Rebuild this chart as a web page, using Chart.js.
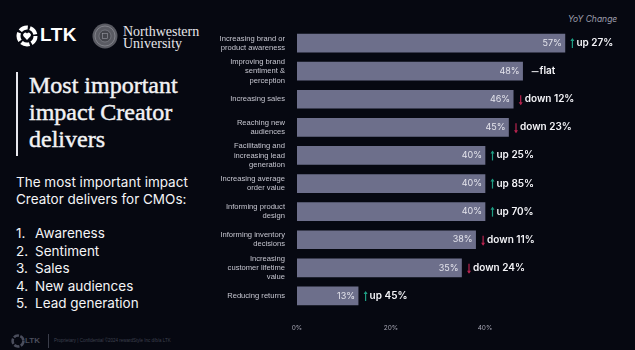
<!DOCTYPE html>
<html>
<head>
<meta charset="utf-8">
<script src="https://cdn.jsdelivr.net/npm/chart.js@4"></script>
<style>
  html, body { margin: 0; padding: 0; }
  body { width: 635px; height: 350px; background: #060811; position: relative; overflow: hidden; color: #fff; }
  .logo { position: absolute; left: 16px; top: 25px; }
  .ltk { position: absolute; left: 40px; top: 24px; font: bold 19px "Liberation Sans", Arial, sans-serif; color: #fff; letter-spacing: 0.5px; }
  .nw { position: absolute; left: 123px; top: 26px; font: 14px/12px "Liberation Serif", serif; color: #e6e6ea; }
  .bar-line { position: absolute; left: 16px; top: 72px; width: 1.5px; height: 84px; background: #e8e8ee; }
  .title { position: absolute; left: 29px; top: 72px; font: 24px/27px "Liberation Serif", serif; color: #f2f2f4; -webkit-text-stroke: 0.45px #f2f2f4; }
  .sub { position: absolute; left: 16px; top: 174px; font: 400 13.5px/17px Inter, sans-serif; color: #f4f4f6; }
  .list { position: absolute; left: 16px; top: 225px; font: 400 13.5px/17.5px Inter, sans-serif; color: #f4f4f6; margin: 0; padding: 0; list-style: none; }
  .list span { display: inline-block; width: 19px; }
  .foot { position: absolute; left: 10px; top: 334px; }
  .foot-ltk { position: absolute; left: 25px; top: 336px; font: bold 8px "Liberation Sans", sans-serif; color: #4a4d5c; }
  .foot-sep { position: absolute; left: 48px; top: 334px; width: 1px; height: 14px; background: #3a3d4a; }
  .foot-txt { position: absolute; left: 54px; top: 338px; font: 4.5px "Liberation Sans", sans-serif; color: #3e4150; white-space: nowrap; }
  .yoy { position: absolute; left: 568px; top: 14px; font: italic 8.5px Inter, sans-serif; color: #9c9cab; }
  #wrap { position: absolute; left: 205px; top: 0; width: 430px; height: 350px; }
</style>
</head>
<body>
<svg class="logo" width="22" height="22" viewBox="0 0 22 22">
  <circle cx="11" cy="11" r="8.5" fill="none" stroke="#fff" stroke-width="4" stroke-dasharray="8.5 2.2"/>
  <path d="M11 15 L7.5 11.2 A2.1 2.1 0 0 1 11 8.6 A2.1 2.1 0 0 1 14.5 11.2 Z" fill="#fff"/>
</svg>
<div class="ltk">LTK</div>
<svg style="position:absolute;left:92px;top:23px" width="26" height="26" viewBox="0 0 26 26">
  <circle cx="13" cy="13" r="12.5" fill="#5a5b63"/>
  <circle cx="13" cy="13" r="10" fill="none" stroke="#8a8b93" stroke-width="0.8"/>
  <circle cx="13" cy="13" r="6" fill="#44454c" stroke="#8a8b93" stroke-width="0.6"/>
  <rect x="10.5" y="10.5" width="5" height="5" fill="none" stroke="#9a9ba3" stroke-width="0.6"/>
</svg>
<div class="nw">Northwestern<br>University</div>
<div class="bar-line"></div>
<div class="title">Most important<br>impact Creator<br>delivers</div>
<div class="sub">The most important impact<br>Creator delivers for CMOs:</div>
<ul class="list">
  <li><span>1.</span>Awareness</li>
  <li><span>2.</span>Sentiment</li>
  <li><span>3.</span>Sales</li>
  <li><span>4.</span>New audiences</li>
  <li><span>5.</span>Lead generation</li>
</ul>
<svg class="foot" width="14" height="14" viewBox="0 0 22 22" style="left:11px;top:334px">
  <circle cx="11" cy="11" r="8.5" fill="none" stroke="#4a4d5c" stroke-width="4" stroke-dasharray="8.5 2.2"/>
</svg>
<div class="foot-ltk">LTK</div>
<div class="foot-sep"></div>
<div class="foot-txt">Proprietary | Confidential ©2024 rewardStyle Inc d/b/a LTK</div>
<div class="yoy">YoY Change</div>
<div id="wrap"><canvas id="myChart" width="430" height="350"></canvas></div>
<script>
const categories = [
    ['Increasing brand or', 'product awareness'],
    ['Improving brand', 'sentiment &', 'perception'],
    'Increasing sales',
    ['Reaching new', 'audiences'],
    ['Facilitating and', 'increasing lead', 'generation'],
    ['Increasing average', 'order value'],
    ['Informing product', 'design'],
    ['Informing inventory', 'decisions'],
    ['Increasing', 'customer lifetime', 'value'],
    'Reducing returns'
]
const shares = [57, 48, 46, 45, 40, 40, 40, 38, 35, 13]
const yoyDir = ['up', 'flat', 'down', 'down', 'up', 'up', 'up', 'down', 'down', 'up']
const yoyPct = [27, 0, 12, 23, 25, 85, 70, 11, 24, 45]
const xTicks = [0, 20, 40]

const barLabels = {
    id: 'barLabels',
    afterDatasetsDraw(chart) {
        const ctx = chart.ctx
        const meta = chart.getDatasetMeta(0)
        ctx.save()
        ctx.textBaseline = 'middle'
        meta.data.forEach((bar, i) => {
            const y = bar.y
            ctx.font = '9px Inter, sans-serif'
            ctx.fillStyle = '#e4e4ec'
            ctx.textAlign = 'right'
            ctx.fillText(shares[i] + '%', bar.x - 3, y)
            ctx.textAlign = 'left'
            let x = bar.x + 6
            if (yoyDir[i] === 'flat') {
                ctx.strokeStyle = '#f0f0f4'
                ctx.lineWidth = 1
                ctx.beginPath()
                ctx.moveTo(x + 3, y + 0.5)
                ctx.lineTo(x + 10, y + 0.5)
                ctx.stroke()
                ctx.font = '600 10px Inter, sans-serif'
                ctx.fillStyle = '#f4f4f8'
                ctx.fillText('flat', x + 11, y)
                return
            }
            const up = yoyDir[i] === 'up'
            ctx.strokeStyle = up ? '#1f9e84' : '#b8244f'
            ctx.fillStyle = ctx.strokeStyle
            ctx.lineWidth = 1.2
            const ax = x + 1.5
            ctx.beginPath()
            ctx.moveTo(ax, y - 4)
            ctx.lineTo(ax, y + 5)
            ctx.stroke()
            ctx.beginPath()
            if (up) {
                ctx.moveTo(ax - 2, y - 2); ctx.lineTo(ax, y - 5); ctx.lineTo(ax + 2, y - 2)
            } else {
                ctx.moveTo(ax - 2, y + 3); ctx.lineTo(ax, y + 6); ctx.lineTo(ax + 2, y + 3)
            }
            ctx.fill()
            ctx.font = '600 10px Inter, sans-serif'
            ctx.fillStyle = '#f4f4f8'
            ctx.fillText(yoyDir[i] + ' ' + yoyPct[i] + '%', x + 5.5, y)
        })
        ctx.restore()
    }
}

const myChart = new Chart(document.querySelector('#myChart'), {
    type: 'bar',
    data: {
        labels: categories,
        datasets: [{
            data: shares,
            backgroundColor: '#6d6f8b',
            barThickness: 18
        }]
    },
    options: {
        indexAxis: 'y',
        responsive: false,
        animation: false,
        layout: { padding: { top: 29, bottom: 20, left: 0, right: 9 } },
        plugins: { legend: { display: false }, tooltip: { enabled: false } },
        scales: {
            x: {
                min: 0,
                max: 70,
                grid: { display: false },
                border: { display: false },
                afterBuildTicks: (axis) => { axis.ticks = xTicks.map(v => ({ value: v })) },
                afterFit: (axis) => { axis.height = 20 },
                ticks: {
                    padding: 6,
                    color: '#a6a6b4',
                    font: { size: 6.5, family: 'Inter, sans-serif' },
                    callback: (v) => v + '%'
                }
            },
            y: {
                grid: { display: false },
                border: { display: false },
                afterFit: (axis) => { axis.width = 92 },
                ticks: {
                    autoSkip: false,
                    padding: 4,
                    color: '#c6c6d0',
                    font: { size: 7.6, family: '"Liberation Sans", Arial, sans-serif', lineHeight: 1.22 }
                }
            }
        }
    },
    plugins: [barLabels]
})
</script>
</body>
</html>
